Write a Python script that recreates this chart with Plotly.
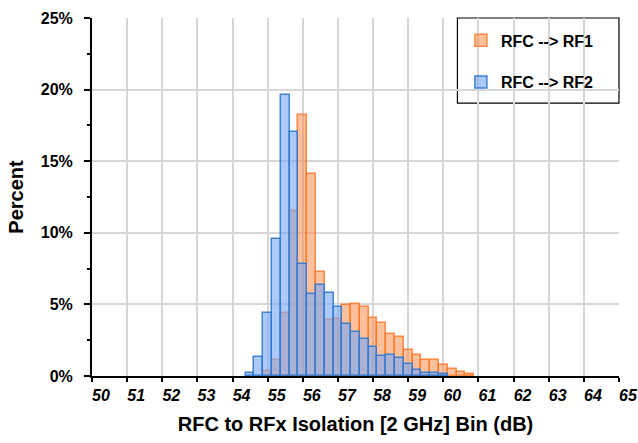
import plotly.graph_objects as go

# Bin centers (dB), 0.25 dB bins
bins = [54.5, 54.75, 55.0, 55.25, 55.5, 55.75, 56.0, 56.25, 56.5, 56.75,
        57.0, 57.25, 57.5, 57.75, 58.0, 58.25, 58.5, 58.75, 59.0, 59.25,
        59.5, 59.75, 60.0, 60.25, 60.5, 60.75]

# Percent per bin
rf1_pct = [None, None, 0.33, 1.12, 4.37, 11.5, 18.2, 14.1, 7.28, 3.9,
           3.95, 4.95, 5.0, 4.83, 4.02, 3.67, 2.9, 2.74, 1.81, 1.46,
           1.12, 1.12, 0.74, 0.51, 0.28, 0.14]
rf2_pct = [0.23, 1.3, 4.37, 9.57, 19.6, 17.04, 7.79, 5.7, 6.35, 5.81,
           4.79, 3.63, 3.08, 2.56, 2.05, 1.39, 1.44, 1.23, 0.84, 0.42,
           0.23, 0.19, 0.14, None, None, None]

series_names = ["RFC --> RF1", "RFC --> RF2"]
x_ticks = list(range(50, 66))
y_ticks = [0, 5, 10, 15, 20, 25]

FONT = "Arial, Liberation Sans, sans-serif"

fig = go.Figure()
fig.add_trace(go.Bar(
    x=bins, y=rf1_pct, width=0.25, name=series_names[0], legendgroup="a",
    marker=dict(color="rgba(255,130,60,0.5)",
                line=dict(color="rgba(255,120,40,0.85)", width=1.5)),
))
fig.add_trace(go.Bar(
    x=bins, y=rf2_pct, width=0.25, name=series_names[1], legendgroup="b",
    marker=dict(color="rgba(120,168,245,0.62)",
                line=dict(color="rgba(45,120,210,0.9)", width=1.5)),
))

fig.update_layout(
    width=638, height=443,
    margin=dict(l=92, r=19, t=18, b=67),
    paper_bgcolor="white", plot_bgcolor="white",
    barmode="overlay", bargap=0,
    font=dict(family=FONT, color="black"),
    showlegend=True,
    legend=dict(
        x=0.70, xanchor="left", y=0.985, yanchor="top",
        bgcolor="rgba(0,0,0,0)", borderwidth=0,
        font=dict(family=FONT, size=16, color="black", weight="bold"),
        tracegroupgap=18, traceorder="grouped",
    ),
    shapes=[dict(type="rect", xref="paper", yref="paper",
                 x0=0.6934, x1=1.0, y0=0.762, y1=1.0,
                 line=dict(color="black", width=1.2), fillcolor="white",
                 layer="below")],
)

fig.update_xaxes(
    range=[50, 65], tickmode="array", tickvals=x_ticks,
    ticktext=[str(v) for v in x_ticks],
    showgrid=True, gridcolor="#d6d6d6", gridwidth=1.5,
    showline=True, linecolor="black", linewidth=2,
    ticks="outside", ticklen=4, tickwidth=2, tickcolor="black",
    tickfont=dict(family=FONT, size=16, color="black", weight="bold", style="italic"),
    ticklabelshift=9, ticklabelstandoff=0,
    zeroline=False, automargin=False,
    title=dict(text="RFC to RFx Isolation [2 GHz] Bin (dB)",
               font=dict(family=FONT, size=20, color="black", weight="bold"),
               standoff=14),
)
fig.update_yaxes(
    range=[0, 25], tickmode="array", tickvals=y_ticks,
    ticktext=[f"{v}%" for v in y_ticks],
    showgrid=True, gridcolor="#d6d6d6", gridwidth=1.5,
    showline=True, linecolor="black", linewidth=2,
    ticks="outside", ticklen=6, tickwidth=2, tickcolor="black",
    minor=dict(dtick=2.5, tick0=0, ticks="outside", ticklen=3, tickwidth=1.5,
               tickcolor="black", showgrid=False),
    tickfont=dict(family=FONT, size=16, color="black", weight="bold"),
    ticklabelstandoff=8,
    zeroline=False, automargin=False,
    title=dict(text="Percent",
               font=dict(family=FONT, size=20, color="black", weight="bold"),
               standoff=12),
)

fig.write_html("out.html",
               config={"displayModeBar": False},
               post_script="document.body.style.margin='0';document.body.style.overflow='hidden';")
